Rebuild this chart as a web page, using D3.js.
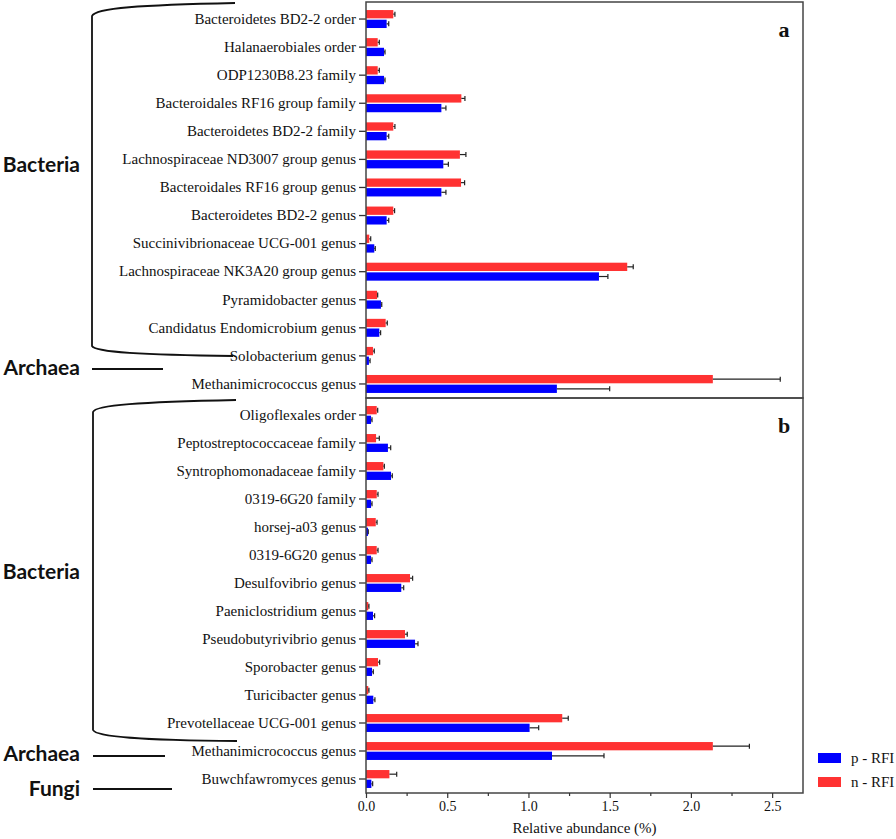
<!DOCTYPE html>
<html>
<head>
<meta charset="utf-8">
<script src="https://cdn.jsdelivr.net/npm/d3@7"></script>
<style>
  body { margin: 0; background: #fff; }
  svg text { fill: #111; }
</style>
</head>
<body>
<svg id="chart" width="896" height="839"></svg>
<script>
// panel a
const catsA = ["Bacteroidetes BD2-2 order", "Halanaerobiales order", "ODP1230B8.23 family",
  "Bacteroidales RF16 group family", "Bacteroidetes BD2-2 family", "Lachnospiraceae ND3007 group genus",
  "Bacteroidales RF16 group genus", "Bacteroidetes BD2-2 genus", "Succinivibrionaceae UCG-001 genus",
  "Lachnospiraceae NK3A20 group genus", "Pyramidobacter genus", "Candidatus Endomicrobium genus",
  "Solobacterium genus", "Methanimicrococcus genus"];
const nRfiA = [0.168, 0.072, 0.072, 0.587, 0.168, 0.578, 0.585, 0.168, 0.020, 1.608, 0.068, 0.121, 0.043, 2.135];
const nSeA  = [0.010, 0.010, 0.010, 0.022, 0.010, 0.037, 0.022, 0.008, 0.009, 0.037, 0.004, 0.010, 0.008, 0.415];
const pRfiA = [0.127, 0.111, 0.111, 0.464, 0.127, 0.476, 0.464, 0.127, 0.051, 1.434, 0.092, 0.082, 0.018, 1.175];
const pSeA  = [0.013, 0.006, 0.006, 0.028, 0.013, 0.031, 0.028, 0.013, 0.006, 0.055, 0.005, 0.008, 0.007, 0.325];

// panel b
const catsB = ["Oligoflexales order", "Peptostreptococcaceae family", "Syntrophomonadaceae family",
  "0319-6G20 family", "horsej-a03 genus", "0319-6G20 genus", "Desulfovibrio genus",
  "Paeniclostridium genus", "Pseudobutyrivibrio genus", "Sporobacter genus", "Turicibacter genus",
  "Prevotellaceae UCG-001 genus", "Methanimicrococcus genus", "Buwchfawromyces genus"];
const nRfiB = [0.066, 0.062, 0.107, 0.066, 0.060, 0.066, 0.271, 0.014, 0.240, 0.074, 0.014, 1.208, 2.135, 0.144];
const nSeB  = [0.006, 0.020, 0.006, 0.008, 0.008, 0.008, 0.016, 0.004, 0.014, 0.010, 0.004, 0.037, 0.225, 0.045];
const pRfiB = [0.031, 0.135, 0.154, 0.031, 0.012, 0.031, 0.217, 0.043, 0.302, 0.037, 0.045, 1.007, 1.145, 0.033];
const pSeB  = [0.006, 0.017, 0.008, 0.006, 0.002, 0.006, 0.015, 0.010, 0.018, 0.008, 0.010, 0.056, 0.320, 0.008];

const xTicks = [0, 0.5, 1.0, 1.5, 2.0, 2.5];
const xMinorTicks = [0.25, 0.75, 1.25, 1.75, 2.25];
const groups = ["n", "p"];
const legendLabels = {p: "p - RFI", n: "n - RFI"};
const colors = {n: "#ff3232", p: "#0000ff"};

const svg = d3.select("#chart");
const serif = "'Liberation Serif', 'Times New Roman', serif";
const sans = "Lato, 'Open Sans', sans-serif";

const left = 366, right = 803;
const panels = [
  {cats: catsA, n: nRfiA, nSe: nSeA, p: pRfiA, pSe: pSeA, top: 2, bottom: 398, label: "a"},
  {cats: catsB, n: nRfiB, nSe: nSeB, p: pRfiB, pSe: pSeB, top: 398, bottom: 793, label: "b"}
];

const x = d3.scaleLinear().domain([0, 2.69]).range([left, right]);

panels.forEach(pn => {
  const y = d3.scaleBand()
    .domain(pn.cats)
    .range([pn.top + 3, pn.bottom])
    .paddingInner(0.36)
    .paddingOuter(0.18);

  const sub = d3.scaleBand()
    .domain(groups)
    .range([0, y.bandwidth()])
    .paddingInner(0.14);

  const rows = pn.cats.map((c, i) => ({
    cat: c,
    vals: [
      {g: "n", v: pn.n[i], se: pn.nSe[i]},
      {g: "p", v: pn.p[i], se: pn.pSe[i]}
    ]
  }));

  const g = svg.append("g");

  const rowG = g.selectAll("g.row")
    .data(rows)
    .enter()
    .append("g")
    .attr("class", "row")
    .attr("transform", d => "translate(0," + y(d.cat) + ")");

  rowG.selectAll("rect")
    .data(d => d.vals)
    .enter()
    .append("rect")
    .attr("x", x(0))
    .attr("y", d => sub(d.g))
    .attr("width", d => x(d.v) - x(0))
    .attr("height", sub.bandwidth())
    .attr("fill", d => colors[d.g]);

  // error bars
  const err = rowG.selectAll("g.err")
    .data(d => d.vals)
    .enter()
    .append("g")
    .attr("class", "err")
    .attr("stroke", "#222")
    .attr("stroke-width", 1.2);

  err.append("line")
    .attr("x1", d => x(d.v))
    .attr("x2", d => x(d.v + d.se))
    .attr("y1", d => sub(d.g) + sub.bandwidth() / 2)
    .attr("y2", d => sub(d.g) + sub.bandwidth() / 2);

  err.append("line")
    .attr("x1", d => x(d.v + d.se))
    .attr("x2", d => x(d.v + d.se))
    .attr("y1", d => sub(d.g) + sub.bandwidth() / 2 - 2.5)
    .attr("y2", d => sub(d.g) + sub.bandwidth() / 2 + 2.5);

  // y axis
  const yAxis = g.append("g")
    .attr("transform", "translate(" + left + ",0)")
    .call(d3.axisLeft(y).tickSize(7).tickPadding(3).tickSizeOuter(0));
  yAxis.select(".domain").remove();
  yAxis.selectAll("line").attr("stroke", "#333").attr("stroke-width", 1.3);
  yAxis.selectAll("text")
    .style("font-family", serif)
    .style("font-size", "15px")
    .attr("fill", "#111");

  // frame
  g.append("rect")
    .attr("x", left)
    .attr("y", pn.top)
    .attr("width", right - left)
    .attr("height", pn.bottom - pn.top)
    .attr("fill", "none")
    .attr("stroke", "#444")
    .attr("stroke-width", 1.5);

  g.append("text")
    .attr("x", 784)
    .attr("y", pn.top + 35)
    .attr("text-anchor", "middle")
    .style("font-family", serif)
    .style("font-weight", "bold")
    .style("font-size", "22px")
    .text(pn.label);
});

// x axis
const xAxis = svg.append("g")
  .attr("transform", "translate(0,793)")
  .call(d3.axisBottom(x).tickValues(xTicks).tickFormat(d3.format(".1f")).tickSize(5).tickSizeOuter(0));
xAxis.select(".domain").remove();
xAxis.selectAll("line").attr("stroke", "#333").attr("stroke-width", 1.2);
xAxis.selectAll("text")
  .style("font-family", serif)
  .style("font-size", "14px")
  .attr("fill", "#111");

svg.append("g")
  .attr("transform", "translate(0,793)")
  .call(d3.axisBottom(x).tickValues(xMinorTicks).tickFormat("").tickSize(3).tickSizeOuter(0))
  .call(a => a.select(".domain").remove())
  .selectAll("line").attr("stroke", "#333").attr("stroke-width", 1.2);

svg.append("text")
  .attr("x", (left + right) / 2)
  .attr("y", 833)
  .attr("text-anchor", "middle")
  .style("font-family", serif)
  .style("font-size", "15px")
  .text("Relative abundance (%)");

// legend
const legend = svg.append("g").attr("transform", "translate(818,753)");
["p", "n"].forEach((k, i) => {
  legend.append("rect")
    .attr("x", 0)
    .attr("y", i * 24)
    .attr("width", 23)
    .attr("height", 10)
    .attr("fill", colors[k]);
  legend.append("text")
    .attr("x", 33)
    .attr("y", i * 24 + 5)
    .attr("dy", "0.35em")
    .style("font-family", serif)
    .style("font-size", "15px")
    .text(legendLabels[k]);
});

// taxonomic group brackets
const brackets = svg.append("g")
  .attr("fill", "none")
  .attr("stroke", "#111")
  .attr("stroke-width", 1.8);

brackets.append("path")
  .attr("d", "M235,3 C140,5 95,8 92,16 L92,346 C95,352 140,355 233,356");
brackets.append("path")
  .attr("d", "M236,400 C140,402 95,405 93,412 L93,730 C96,737 140,740 237,741");
brackets.append("line").attr("x1", 92).attr("x2", 163).attr("y1", 369).attr("y2", 369);
brackets.append("line").attr("x1", 93).attr("x2", 165).attr("y1", 756).attr("y2", 756);
brackets.append("line").attr("x1", 93).attr("x2", 172).attr("y1", 789).attr("y2", 789);

const groupLabels = [
  {t: "Bacteria", y: 165},
  {t: "Archaea", y: 368},
  {t: "Bacteria", y: 572},
  {t: "Archaea", y: 754},
  {t: "Fungi", y: 789}
];
svg.selectAll("text.grp")
  .data(groupLabels)
  .enter()
  .append("text")
  .attr("class", "grp")
  .attr("x", 80)
  .attr("y", d => d.y)
  .attr("dy", "0.35em")
  .attr("text-anchor", "end")
  .style("font-family", sans)
  .style("font-weight", "bold")
  .style("font-size", "21px")
  .text(d => d.t);
</script>
</body>
</html>
